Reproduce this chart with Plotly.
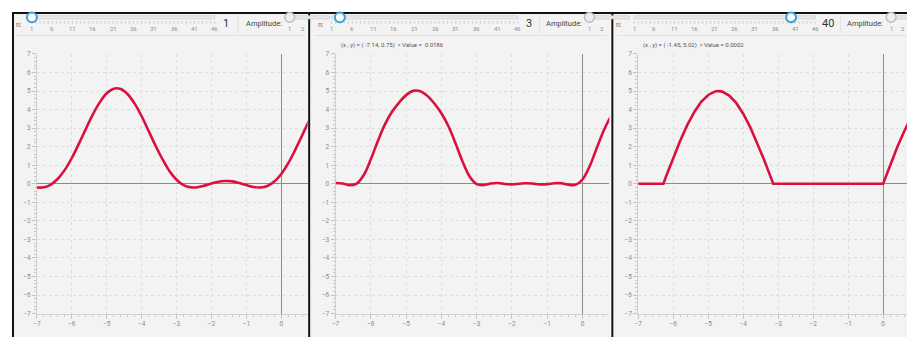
import plotly.graph_objects as go

# The page body has the browser's default 8 px margin, so the figure is
# drawn 8 px in from the window's top-left corner.
OFF = 8
W, H = 915, 341
FW, FH = W - OFF, H - OFF

# ---------------- data ----------------
x_grid = [-7.0, -6.8, -6.6, -6.4, -6.2, -6.0, -5.8, -5.6, -5.4, -5.2, -5.0,
          -4.8, -4.6, -4.4, -4.2, -4.0, -3.8, -3.6, -3.4, -3.2, -3.0,
          -2.8, -2.6, -2.4, -2.2, -2.0, -1.8, -1.6, -1.4, -1.2, -1.0,
          -0.8, -0.6, -0.4, -0.2, 0.0, 0.2, 0.4, 0.6, 0.8, 1.0]

y_n1 = [-0.20, -0.19, -0.04, 0.27, 0.75, 1.39, 2.15, 2.95, 3.73, 4.39, 4.88,
        5.13, 5.11, 4.83, 4.32, 3.64, 2.85, 2.05, 1.31, 0.68, 0.22,
        -0.07, -0.19, -0.19, -0.10, 0.01, 0.11, 0.15, 0.13, 0.04, -0.07,
        -0.17, -0.20, -0.12, 0.12, 0.53, 1.11, 1.83, 2.62, 3.42, 4.14]

y_n3 = [0.04, 0.01, -0.08, 0.01, 0.47, 1.32, 2.31, 3.20, 3.88, 4.38, 4.78,
        5.01, 4.99, 4.74, 4.33, 3.80, 3.10, 2.19, 1.20, 0.39, -0.02,
        -0.07, 0.01, 0.04, -0.01, -0.03, 0.00, 0.03, 0.01, -0.03, -0.02,
        0.03, 0.03, -0.05, -0.06, 0.23, 0.93, 1.90, 2.86, 3.62, 4.19]

x_n40 = [-7.0, -6.28, -6.2, -6.0, -5.8, -5.6, -5.4, -5.2, -5.0, -4.8, -4.71,
         -4.6, -4.4, -4.2, -4.0, -3.8, -3.6, -3.4, -3.2, -3.14,
         0.0, 0.2, 0.4, 0.6, 0.8, 1.0]
y_n40 = [0, 0, 0.42, 1.40, 2.32, 3.16, 3.86, 4.42, 4.79, 4.98, 5.0,
         4.97, 4.76, 4.36, 3.78, 3.06, 2.21, 1.28, 0.29, 0,
         0, 0.99, 1.95, 2.82, 3.59, 4.21]

n_values = [1, 3, 40]
n_slider_ticks = [1, 6, 11, 16, 21, 26, 31, 36, 41, 46]
amp_slider_ticks = [1, 2]
readouts = ["",
            "(x , y) = ( -7.14, 0.75)  \u00bb Value =  0.0186",
            "(x , y) = ( -1.45, 5.02)  \u00bb Value = 0.0002"]

# ---------------- layout geometry (window pixels) ----------------
plot_left = [33, 333, 637]
plot_right = [305, 608, 915]
px_per_unit = [35.07, 35.43, 35.14]
plot_top, plot_bottom = 51, 317
track_start = [28, 329, 633]
track_unit = [4.08, 4.16, 4.04]
n_label_x = [15, 318, 618]
value_label_x = [223, 527, 828]
sep_x = [235, 538, 840]
amp_text_x = [261, 562, 865]
amp_thumb_x = [287, 588, 891]
amp_step = [13, 13, 12]
panel_left = [8, 308, 612]
panel_right = [305, 609, 915]

FONT = "Roboto"
CURVE = "#d8113f"


def fx(p):
    return (p - OFF) / FW


def fy(p):
    return 1 - (p - OFF) / FH


fig = go.Figure()

curves = [(x_grid, y_n1, "spline"), (x_grid, y_n3, "spline"), (x_n40, y_n40, "linear")]
for i, (xs, ys, shape) in enumerate(curves):
    suffix = "" if i == 0 else str(i + 1)
    fig.add_trace(go.Scatter(
        x=xs, y=ys, mode="lines",
        line=dict(color=CURVE, width=2.6, shape=shape, smoothing=1.0),
        xaxis="x" + suffix, yaxis="y" + suffix, showlegend=False,
        hoverinfo="skip"))

axis_common = dict(
    showgrid=True, gridcolor="#dedede", griddash="3px,3px", gridwidth=1,
    dtick=1, tick0=0, zeroline=True, zerolinecolor="#8c8c8c", zerolinewidth=1.2,
    showline=True, linecolor="#d0d0d0", linewidth=1,
    ticks="outside", ticklen=4, tickcolor="#c4c4c4", tickwidth=1,
    minor=dict(dtick=0.2, ticks="outside", ticklen=2, tickcolor="#c8c8c8", showgrid=False),
    tickfont=dict(family=FONT, size=6.5, color="#8a8a8a"),
    fixedrange=True, layer="below traces",
)

layout = dict(
    width=FW, height=FH, margin=dict(l=0, r=0, t=0, b=0),
    paper_bgcolor="white", plot_bgcolor="#f3f3f3",
    font=dict(family=FONT), showlegend=False,
)

for i in range(3):
    suffix = "" if i == 0 else str(i + 1)
    xmax = -7 + (plot_right[i] - plot_left[i]) / px_per_unit[i]
    xa = dict(axis_common)
    xa.update(domain=[fx(plot_left[i]), min(1.0, fx(plot_right[i]))], range=[-7, xmax],
              anchor="y" + suffix)
    ya = dict(axis_common)
    ya.update(domain=[fy(plot_bottom), fy(plot_top)], range=[-7, 7],
              anchor="x" + suffix)
    layout["xaxis" + suffix] = xa
    layout["yaxis" + suffix] = ya

fig.update_layout(**layout)

shapes = []
annotations = []

# panel backgrounds
for i in range(3):
    shapes.append(dict(type="rect", xref="paper", yref="paper", layer="below",
                       x0=max(0, fx(panel_left[i])), x1=fx(panel_right[i]), y0=0, y1=1,
                       fillcolor="#f3f3f3", line=dict(width=0)))

# panel borders
for bx in [9, 306.5, 611]:
    shapes.append(dict(type="line", xref="paper", yref="paper",
                       x0=fx(bx), x1=fx(bx), y0=0, y1=1,
                       line=dict(color="#111111", width=2)))
shapes.append(dict(type="line", xref="paper", yref="paper",
                   x0=0, x1=1, y0=fy(9), y1=fy(9),
                   line=dict(color="#111111", width=2)))

for i in range(3):
    # toolbar separator line
    shapes.append(dict(type="line", xref="paper", yref="paper",
                       x0=fx(panel_left[i] + 4), x1=fx(panel_right[i] - 3),
                       y0=fy(32), y1=fy(32), line=dict(color="#e2e2e2", width=1)))
    # vertical separator in toolbar
    shapes.append(dict(type="line", xref="paper", yref="paper",
                       x0=fx(sep_x[i]), x1=fx(sep_x[i]), y0=fy(10), y1=fy(29),
                       line=dict(color="#e0e0e0", width=1)))
    # n slider track
    t0 = track_start[i]
    t1 = t0 + 45 * track_unit[i]
    shapes.append(dict(type="rect", xref="paper", yref="paper",
                       x0=fx(t0), x1=fx(t1), y0=fy(15), y1=fy(12),
                       fillcolor="#ebebeb", line=dict(color="#d2d2d2", width=1)))
    # slider minor ticks
    for k in range(46):
        tx = t0 + k * track_unit[i]
        shapes.append(dict(type="line", xref="paper", yref="paper",
                           x0=fx(tx), x1=fx(tx), y0=fy(17.5), y1=fy(20),
                           line=dict(color="#cacaca", width=1)))
    for v in n_slider_ticks:
        annotations.append(dict(xref="paper", yref="paper",
                                x=fx(t0 + (v - 1) * track_unit[i]), y=fy(25),
                                text=str(v), showarrow=False, xanchor="center", yanchor="middle",
                                font=dict(family=FONT, size=6, color="#8a8a8a")))
    # thumb
    thx = t0 + (n_values[i] - 1) * track_unit[i]
    shapes.append(dict(type="circle", xref="paper", yref="paper",
                       x0=fx(thx - 5), x1=fx(thx + 5), y0=fy(18.5), y1=fy(8.5),
                       fillcolor="#f6fafd", line=dict(color="#3d9fd6", width=2)))
    # labels
    annotations.append(dict(xref="paper", yref="paper", x=fx(n_label_x[i]), y=fy(21),
                            text="n:", showarrow=False, xanchor="center", yanchor="middle",
                            font=dict(family=FONT, size=7, color="#666")))
    annotations.append(dict(xref="paper", yref="paper", x=fx(value_label_x[i]), y=fy(20),
                            text=str(n_values[i]), showarrow=False, xanchor="center",
                            yanchor="middle", font=dict(family=FONT, size=11, color="#333")))
    annotations.append(dict(xref="paper", yref="paper", x=fx(amp_text_x[i]), y=fy(20),
                            text="Amplitude:", showarrow=False, xanchor="center",
                            yanchor="middle", font=dict(family=FONT, size=7.5, color="#444")))
    # amplitude slider
    ax0 = amp_thumb_x[i]
    shapes.append(dict(type="rect", xref="paper", yref="paper",
                       x0=fx(ax0), x1=min(1.0, fx(ax0 + 40)),
                       y0=fy(15), y1=fy(12),
                       fillcolor="#ebebeb", line=dict(color="#d2d2d2", width=1)))
    for k, v in enumerate(amp_slider_ticks):
        annotations.append(dict(xref="paper", yref="paper", x=fx(ax0 + k * amp_step[i]),
                                y=fy(25), text=str(v), showarrow=False, xanchor="center",
                                yanchor="middle",
                                font=dict(family=FONT, size=6, color="#8a8a8a")))
    shapes.append(dict(type="circle", xref="paper", yref="paper",
                       x0=fx(ax0 - 5), x1=fx(ax0 + 5), y0=fy(18.5), y1=fy(8.5),
                       fillcolor="#eeeeee", line=dict(color="#bdbdbd", width=1.5)))
    # readout text
    if readouts[i]:
        annotations.append(dict(xref="paper", yref="paper", x=fx(plot_left[i] + 3), y=fy(42),
                                text=readouts[i], showarrow=False, xanchor="left",
                                yanchor="middle",
                                font=dict(family=FONT, size=6, color="#555")))

# the black border between panel 1 and panel 2 must sit above panel 2's background
fig.update_layout(shapes=shapes, annotations=annotations)
fig.write_html("out.html")
